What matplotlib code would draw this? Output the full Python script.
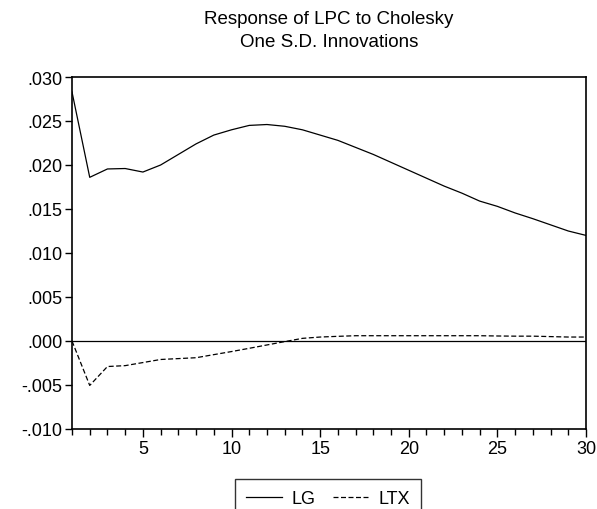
import numpy as np
import matplotlib.pyplot as plt
from matplotlib.ticker import MultipleLocator, FixedLocator, FuncFormatter

plt.rcParams['font.family'] = ['Liberation Sans', 'DejaVu Sans']

periods = np.arange(1, 31)
lg = [0.0283, 0.0186, 0.01955, 0.0196, 0.0192, 0.0200, 0.0212, 0.0224, 0.0234, 0.0240,
      0.0245, 0.0246, 0.0244, 0.0240, 0.0234, 0.0228, 0.0220, 0.0212, 0.0203, 0.0194,
      0.0185, 0.0176, 0.0168, 0.0159, 0.0153, 0.01455, 0.0139, 0.0132, 0.0125, 0.0120]
ltx = [0.0, -0.00505, -0.0029, -0.0028, -0.00245, -0.0021, -0.0020, -0.0019, -0.00155, -0.0012,
       -0.00083, -0.00045, -0.00007, 0.0003, 0.00045, 0.00053, 0.0006, 0.0006, 0.0006, 0.0006,
       0.0006, 0.0006, 0.0006, 0.0006, 0.00057, 0.00055, 0.00055, 0.0005, 0.00045, 0.00045]

fig = plt.figure(figsize=(5.97, 5.10), dpi=100)
ax = fig.add_axes([72/597, 1 - 430/510, (586 - 72)/597, (430 - 78)/510])

ax.axhline(0, color='black', lw=0.9)
ax.plot(periods, lg, color='black', lw=0.9, label='LG')
ax.plot(periods, ltx, color='black', lw=0.9, ls=(0, (4, 2)), label='LTX')

ax.set_xlim(1, 30)
ax.set_ylim(-0.010, 0.030)
ax.yaxis.set_major_locator(MultipleLocator(0.005))
ax.yaxis.set_major_formatter(FuncFormatter(lambda v, p: ('%.3f' % v).replace('0.', '.', 1)))
ax.xaxis.set_major_locator(FixedLocator([5, 10, 15, 20, 25, 30]))
ax.xaxis.set_minor_locator(MultipleLocator(1))
ax.tick_params(axis='both', direction='out', labelsize=13, width=1, color='black')
ax.tick_params(axis='x', which='major', length=6, pad=2)
ax.tick_params(axis='x', which='minor', length=4, width=1)
ax.tick_params(axis='y', length=5, pad=2)
for s in ax.spines.values():
    s.set_linewidth(1.2)

fig.text(329/597, 1 - 31/510, 'Response of LPC to Cholesky\nOne S.D. Innovations',
         ha='center', va='center', fontsize=13.5, linespacing=1.45)

leg = fig.legend(loc='upper center', bbox_to_anchor=(328/597, 1 - 480/510), ncol=2,
                 fontsize=13, frameon=True, fancybox=False, handlelength=2.0,
                 handletextpad=0.55, columnspacing=0.95, borderpad=0.6,
                 borderaxespad=0)
leg.get_frame().set_edgecolor('black')
leg.get_frame().set_linewidth(1.0)

fig.savefig('out.png', dpi=100)
